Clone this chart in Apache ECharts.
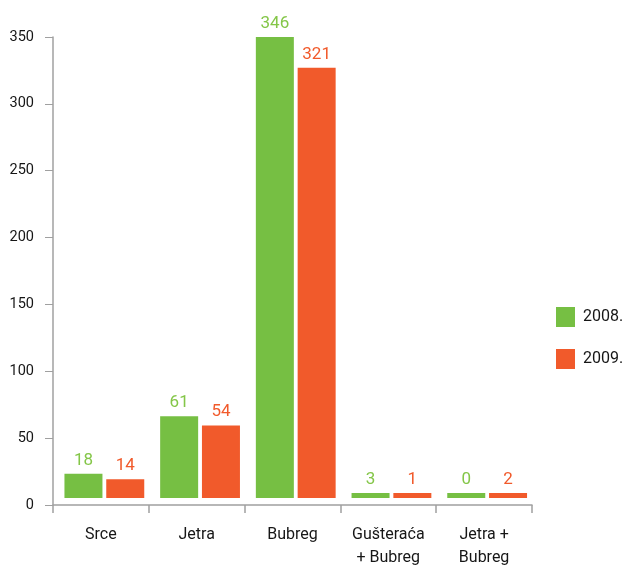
<!DOCTYPE html>
<html><head><meta charset="utf-8">
<script src="https://cdn.jsdelivr.net/npm/echarts@6/dist/echarts.min.js"></script>
<style>html,body{margin:0;padding:0;background:#fff}#c{width:627px;height:569px}</style>
</head><body><div id="c"></div>
<script>
const categories = ['Srce', 'Jetra', 'Bubreg', 'Gušteraća\n+ Bubreg', 'Jetra +\nBubreg'];
const values2008 = [18, 61, 346, 3, 0];
const values2009 = [14, 54, 321, 1, 2];
const yTicks = { min: 0, max: 350, interval: 50 };
const seriesNames = ['2008.', '2009.'];

const GREEN = '#76bf43', ORANGE = '#f15a2b';
const FONT = 'Roboto, "Noto Sans", sans-serif';
const TEXT = '#161616', AXIS = '#a0a0a0';
const chart = echarts.init(document.getElementById('c'), null, { renderer: 'canvas' });
const labelStyle = (color) => ({
  show: true, position: 'top', distance: 5, color: color,
  fontFamily: FONT, fontSize: 17, fontWeight: 400
});
chart.setOption({
  animation: false,
  textStyle: { fontFamily: FONT },
  grid: [
    { left: 53, right: 95, top: 37, bottom: 63, containLabel: false },
    { left: 56.5, right: 92, top: 37, bottom: 63, containLabel: false }
  ],
  legend: {
    orient: 'vertical', left: 556, top: 307, padding: 0, itemWidth: 19, itemHeight: 20, itemGap: 22,
    icon: 'rect',
    textStyle: { fontFamily: FONT, fontSize: 16, fontWeight: 400, color: TEXT, padding: [0, 0, 0, 3] },
    data: seriesNames
  },
  xAxis: [{
    type: 'category', data: categories, gridIndex: 0,
    axisLine: { lineStyle: { color: AXIS, width: 1.5 } },
    axisTick: { show: true, length: 8, lineStyle: { color: AXIS, width: 1.5 } },
    axisLabel: { color: TEXT, fontFamily: FONT, fontSize: 16, fontWeight: 400, lineHeight: 23, margin: 18, interval: 0 }
  }, {
    type: 'category', data: categories, gridIndex: 1, show: false
  }],
  yAxis: [{
    type: 'value', gridIndex: 0, min: yTicks.min, max: yTicks.max, interval: yTicks.interval,
    axisLine: { show: true, lineStyle: { color: AXIS, width: 1.5 } },
    axisTick: { show: true, length: 8, lineStyle: { color: AXIS, width: 1 } },
    splitLine: { show: false },
    axisLabel: { color: TEXT, fontFamily: FONT, fontSize: 14.5, fontWeight: 400, margin: 19 }
  }, {
    type: 'value', gridIndex: 1, min: -6, max: 344, show: false, splitLine: { show: false }
  }],
  series: [{
    name: seriesNames[0], type: 'bar', xAxisIndex: 1, yAxisIndex: 1, data: values2008,
    barWidth: 38, barGap: '10%', barMinHeight: 5, itemStyle: { color: GREEN },
    label: labelStyle('#84c648')
  }, {
    name: seriesNames[1], type: 'bar', xAxisIndex: 1, yAxisIndex: 1, data: values2009,
    barWidth: 38, barGap: '10%', barMinHeight: 5, itemStyle: { color: ORANGE },
    label: labelStyle(ORANGE)
  }]
});
</script></body></html>
